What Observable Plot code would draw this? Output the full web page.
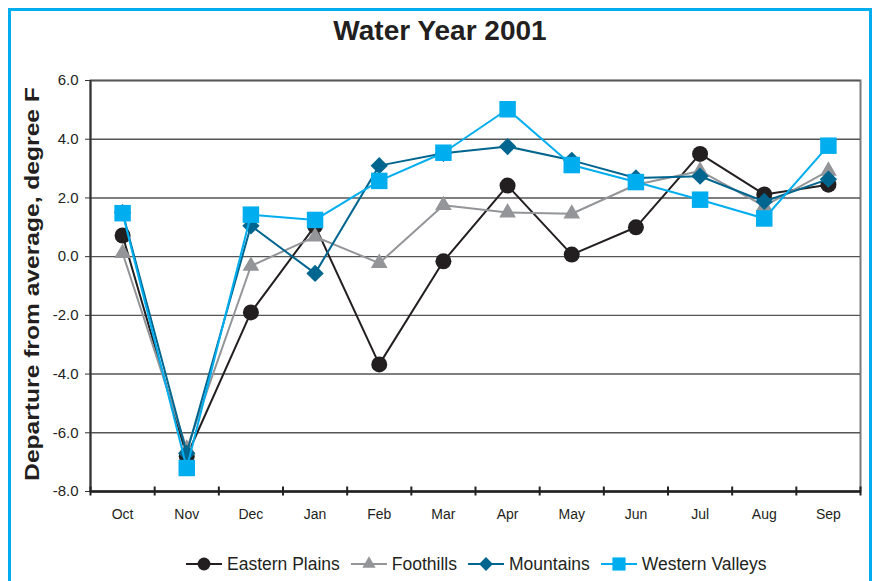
<!DOCTYPE html>
<html><head><meta charset="utf-8">
<script src="https://cdn.jsdelivr.net/npm/d3@7"></script>
<script src="https://cdn.jsdelivr.net/npm/@observablehq/plot@0.6"></script>
<style>
body{margin:0;background:#fff;font-family:"Liberation Sans",Arial,sans-serif;color:#231f20;}
#wrap{position:relative;width:874px;height:581px;overflow:hidden;background:#fff;}
#frame{position:absolute;left:8px;top:8px;width:864px;height:640px;border:3px solid #00aeef;box-sizing:border-box;}
#chart{position:absolute;left:0;top:0;}
#title{position:absolute;left:8px;width:864px;top:14px;text-align:center;font-weight:bold;font-size:28px;line-height:34px;}
#ylabel{position:absolute;left:32px;top:284px;transform:translate(-50%,-50%) rotate(-90deg) scaleX(1.23);white-space:nowrap;font-weight:bold;font-size:20px;line-height:22px;}
#legend{position:absolute;left:186px;top:553px;height:22px;display:flex;align-items:center;font-size:17.5px;white-space:nowrap;}
#legend .item{display:flex;align-items:center;margin-right:11px;}
#legend svg{margin-right:5px;}
</style>
</head><body>
<div id="wrap">
  <div id="frame"></div>
  <div id="chart"></div>
  <div id="title">Water Year 2001</div>
  <div id="ylabel">Departure from average, degree F</div>
  <div id="legend"></div>
</div>
<script>
const months = ["Oct","Nov","Dec","Jan","Feb","Mar","Apr","May","Jun","Jul","Aug","Sep"];
const easternPlains  = [0.72, -6.8, -1.9, 1.05, -3.67, -0.16, 2.42, 0.07, 1.0, 3.5, 2.12, 2.45];
const foothills      = [0.12, -6.55, -0.32, 0.68, -0.22, 1.75, 1.5, 1.46, 2.45, 2.92, 1.72, 2.92];
const mountains      = [1.5, -6.7, 1.05, -0.57, 3.1, 3.52, 3.75, 3.28, 2.68, 2.74, 1.88, 2.64];
const westernValleys = [1.48, -7.2, 1.43, 1.25, 2.58, 3.54, 5.02, 3.12, 2.54, 1.94, 1.3, 3.78];
const seriesNames = ["Eastern Plains","Foothills","Mountains","Western Valleys"];
const yTicks = [6, 4, 2, 0, -2, -4, -6, -8];

const seriesValues = [easternPlains, foothills, mountains, westernValleys];
const colors = ["#231f20", "#939598", "#00668f", "#00aeef"];
const symbols = ["circle", "triangle", "diamond2", "square"];
const radii = [8, 6.2, 7.8, 9.3];

const idx = months.map((m, i) => i);
const boundaries = d3.range(-0.5, 12, 1);

const marks = [
  Plot.frame({stroke: "#7a7a7a", strokeWidth: 2}),
  Plot.gridY(yTicks, {stroke: "#555", strokeOpacity: 1, strokeWidth: 1.4}),
  Plot.ruleX([-0.5], {stroke: "#333", strokeWidth: 2}),
  Plot.axisY(yTicks, {tickSize: 5, tickPadding: 7, tickFormat: d => d.toFixed(1), label: null, fontSize: 15, stroke: "#333"}),
  Plot.axisX(boundaries, {tickSize: 9, dy: -4.5, tickFormat: () => "", label: null, stroke: "#222", strokeWidth: 2}),
  Plot.axisX(idx, {tickSize: 0, tickPadding: 18, tickFormat: i => months[i], label: null, fontSize: 14}),
  Plot.ruleY([-8], {stroke: "#222", strokeWidth: 2.5})
];
seriesValues.forEach((vals, s) => {
  const rows = vals.map((v, i) => ({i, v}));
  marks.push(Plot.line(rows, {x: "i", y: "v", stroke: colors[s], strokeWidth: 2}));
  marks.push(Plot.dot(rows, {x: "i", y: "v", symbol: () => symbols[s], r: radii[s], fill: colors[s], stroke: "none"}));
});

const chart = Plot.plot({
  width: 874,
  height: 530,
  marginLeft: 90,
  marginRight: 14,
  marginTop: 80,
  marginBottom: 39,
  style: {fontFamily: "'Liberation Sans', Arial, sans-serif", color: "#231f20", background: "transparent", overflow: "visible"},
  x: {type: "linear", domain: [-0.5, 11.5]},
  y: {domain: [-8, 6]},
  symbol: {type: "identity"},
  marks
});
document.getElementById("chart").appendChild(chart);

// legend
const legend = d3.select("#legend");
seriesNames.forEach((name, s) => {
  const item = legend.append("div").attr("class", "item");
  const svg = item.append("svg").attr("width", 36).attr("height", 20);
  svg.append("line").attr("x1", 0).attr("x2", 36).attr("y1", 10).attr("y2", 10)
     .attr("stroke", colors[s]).attr("stroke-width", 2);
  const sym = {circle: d3.symbolCircle, triangle: d3.symbolTriangle, diamond2: d3.symbolDiamond2, square: d3.symbolSquare}[symbols[s]];
  const r = radii[s] * 0.8;
  svg.append("path").attr("transform", "translate(18,10)")
     .attr("d", d3.symbol(sym, Math.PI * r * r)()).attr("fill", colors[s]);
  item.append("span").text(name);
});
</script>
</body></html>
